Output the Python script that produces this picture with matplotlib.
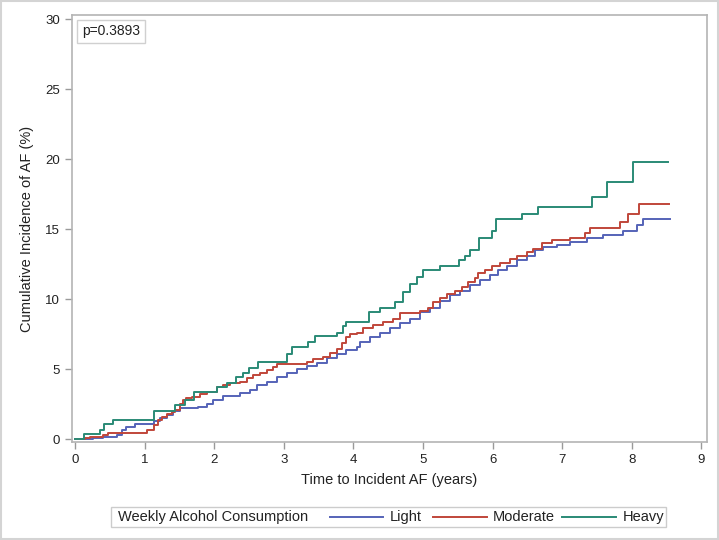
import matplotlib
matplotlib.use('Agg')
import matplotlib.pyplot as plt
from matplotlib.lines import Line2D
from matplotlib.patches import Rectangle

plt.rcParams['font.family'] = ['Liberation Sans', 'DejaVu Sans']

# Kaplan-Meier style cumulative incidence
light_t = [0, 0.26, 0.40, 0.60, 0.67, 0.74, 0.86, 1.13, 1.22, 1.32, 1.41, 1.51, 1.77,
           1.90, 1.99, 2.13, 2.37, 2.51, 2.61, 2.76, 2.90, 3.05, 3.19, 3.33, 3.48, 3.62,
           3.76, 3.90, 4.05, 4.10, 4.24, 4.38, 4.53, 4.67, 4.81, 4.96, 5.10, 5.24, 5.39,
           5.53, 5.68, 5.82, 5.96, 6.08, 6.20, 6.35, 6.49, 6.61, 6.72, 6.93, 7.11, 7.36,
           7.59, 7.87, 8.07, 8.16, 8.55]
light_y = [0, 0.07, 0.14, 0.3, 0.64, 0.86, 1.07, 1.29, 1.5, 1.7, 2.0, 2.2, 2.3,
           2.5, 2.8, 3.1, 3.26, 3.5, 3.86, 4.07, 4.4, 4.7, 5.0, 5.2, 5.4, 5.8,
           6.1, 6.36, 6.6, 6.9, 7.3, 7.6, 7.9, 8.3, 8.6, 9.1, 9.4, 9.9, 10.3,
           10.6, 11.0, 11.4, 11.7, 12.07, 12.4, 12.8, 13.1, 13.5, 13.7, 13.86, 14.07, 14.36,
           14.6, 14.86, 15.3, 15.7, 15.7]

mod_t = [0, 0.15, 0.22, 0.40, 0.47, 1.03, 1.14, 1.19, 1.25, 1.32, 1.39, 1.44, 1.51,
         1.55, 1.59, 1.68, 1.80, 1.90, 2.04, 2.13, 2.23, 2.37, 2.47, 2.56, 2.66, 2.76,
         2.85, 2.90, 3.33, 3.42, 3.56, 3.66, 3.76, 3.83, 3.90, 3.95, 4.05, 4.14, 4.28,
         4.43, 4.57, 4.67, 4.96, 5.07, 5.14, 5.24, 5.34, 5.46, 5.56, 5.65, 5.75, 5.79,
         5.89, 5.99, 6.10, 6.25, 6.35, 6.49, 6.58, 6.71, 6.85, 7.11, 7.33, 7.40, 7.83,
         7.95, 8.10, 8.53]
mod_y = [0, 0.07, 0.15, 0.3, 0.43, 0.64, 1.0, 1.36, 1.6, 1.8, 1.95, 2.1, 2.5,
         2.8, 2.9, 3.0, 3.2, 3.36, 3.7, 3.86, 4.0, 4.07, 4.36, 4.57, 4.71, 4.93,
         5.14, 5.36, 5.5, 5.7, 5.86, 6.14, 6.43, 6.86, 7.3, 7.5, 7.6, 7.9, 8.14,
         8.36, 8.6, 9.0, 9.14, 9.4, 9.8, 10.1, 10.4, 10.6, 10.9, 11.2, 11.5, 11.9,
         12.1, 12.36, 12.6, 12.9, 13.1, 13.4, 13.6, 14.0, 14.2, 14.4, 14.7, 15.1, 15.5,
         16.1, 16.8, 16.8]

heavy_t = [0, 0.13, 0.36, 0.42, 0.55, 1.14, 1.44, 1.58, 1.71, 2.04, 2.18, 2.31, 2.41,
           2.50, 2.63, 3.04, 3.12, 3.35, 3.45, 3.76, 3.85, 3.90, 4.22, 4.38, 4.60, 4.71,
           4.81, 4.91, 5.00, 5.24, 5.52, 5.60, 5.68, 5.80, 5.99, 6.05, 6.42, 6.65, 7.43,
           7.64, 8.02, 8.52]
heavy_y = [0, 0.33, 0.64, 1.07, 1.36, 2.0, 2.43, 2.79, 3.36, 3.7, 4.0, 4.4, 4.7,
           5.1, 5.5, 6.1, 6.6, 6.9, 7.36, 7.6, 8.1, 8.36, 9.1, 9.4, 9.8, 10.5,
           11.1, 11.6, 12.1, 12.4, 12.8, 13.1, 13.5, 14.4, 14.9, 15.7, 16.1, 16.6, 17.3,
           18.4, 19.8, 19.8]

groups = ['Light', 'Moderate', 'Heavy']
colors = ['#5563B8', '#C0463A', '#2A8A76']
x_ticks = list(range(0, 10))
y_ticks = [0, 5, 10, 15, 20, 25, 30]
p_text = 'p=0.3893'

W, H = 719, 540
fig = plt.figure(figsize=(W / 100, H / 100), dpi=100)
ax = fig.add_axes([0.1001, 0.1815, 0.8832, 0.7907])

series = [(light_t, light_y), (mod_t, mod_y), (heavy_t, heavy_y)]
for (t, y), col in zip(series, colors):
    ax.step(t, y, where='post', color=col, lw=1.4)

ax.set_xlim(-0.043, 9.08)
ax.set_ylim(-0.21, 30.3)
ax.set_xticks(x_ticks)
ax.set_yticks(y_ticks)
for s in ax.spines.values():
    s.set_color('#b4b4b4')
    s.set_linewidth(1.2)
ax.tick_params(colors='#9a9a9a', labelcolor='#222222', labelsize=9.5,
               length=5, width=1)
ax.set_xlabel('Time to Incident AF (years)', fontsize=10.5, color='#222222', labelpad=5)
ax.set_ylabel('Cumulative Incidence of AF (%)', fontsize=10.5, color='#222222', labelpad=8)

ax.text(0.016, 0.978, p_text, transform=ax.transAxes, fontsize=10, va='top', ha='left',
        color='#222222',
        bbox=dict(boxstyle='square,pad=0.35', facecolor='white', edgecolor='#d0d0d0'))

# legend strip at the bottom, laid out by hand
ly = 1 - 517 / H
base = 1 - 521 / H
fig.patches.append(Rectangle((111 / W, 1 - 527 / H), (666 - 111) / W, 20 / H,
                             transform=fig.transFigure, facecolor='white',
                             edgecolor='#cccccc', lw=1))
fig.text(118 / W, base, 'Weekly Alcohol Consumption', fontsize=10.5,
         va='baseline', ha='left', color='#222222')
line_x = [(330, 383), (433, 487), (562, 616)]
text_x = [390, 493, 623]
for (x0, x1), tx, lab, col in zip(line_x, text_x, groups, colors):
    fig.add_artist(Line2D([x0 / W, x1 / W], [ly, ly], transform=fig.transFigure,
                          color=col, lw=1.4))
    fig.text(tx / W, base, lab, fontsize=10.5, va='baseline', ha='left',
             color='#222222')

# light gray outer border
fig.patches.append(Rectangle((0.001, 0.002), 0.997, 0.996, transform=fig.transFigure,
                             facecolor='none', edgecolor='#d4d4d4', lw=1.5))

fig.savefig('out.png', dpi=100, facecolor='white')
plt.close(fig)
